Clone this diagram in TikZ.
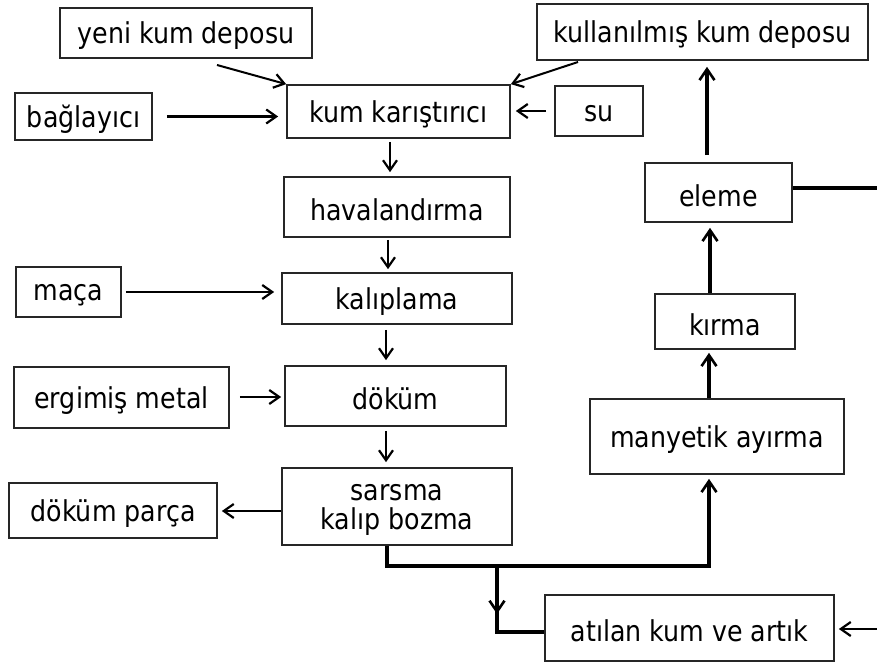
\documentclass[tikz,border=0pt]{standalone}
\usepackage{fontspec}
\setmainfont{DejaVu Sans}
\usepackage{graphicx}
\usetikzlibrary{arrows.meta,calc}
\newcommand\T[1]{\raisebox{-3pt}[\height][\depth]{\scalebox{1.1}[1.25]{#1}}}
\begin{document}
\begin{tikzpicture}[x=1pt,y=-1pt,
  box/.style={draw=black!85,line width=1.7pt,inner sep=0pt,font=\fontsize{23}{30}\selectfont,text=black,align=center},
  arr/.style={line width=2.6pt,-{Straight Barb[length=10pt,width=14pt,line width=2.2pt]}},
  flow/.style={line width=3.2pt},
  flowarr/.style={line width=3.2pt,-{Straight Barb[length=11pt,width=15pt,line width=2.6pt]}}]
\useasboundingbox (0,0) rectangle (877,663);
% nodes
\node[box,minimum width=252,minimum height=50] (yeni) at (186,33) {\T{yeni kum deposu}};
\node[box,minimum width=331,minimum height=56] (kull) at (702.5,32) {\T{kullanılmış kum deposu}};
\node[box,minimum width=137,minimum height=47] (bag) at (83.5,116.5) {\T{bağlayıcı}};
\node[box,minimum width=223,minimum height=53] (kar) at (398.5,111.5) {\T{kum karıştırıcı}};
\node[box,minimum width=88,minimum height=50] (su) at (599,111) {\T{su}};
\node[box,minimum width=226,minimum height=60] (hav) at (397,207) {\T{havalandırma}};
\node[box,minimum width=230,minimum height=51] (kal) at (397,298.5) {\T{kalıplama}};
\node[box,minimum width=105,minimum height=50] (maca) at (68.5,292) {\T{maça}};
\node[box,minimum width=215,minimum height=61] (erg) at (121.5,397.5) {\T{ergimiş metal}};
\node[box,minimum width=221,minimum height=60] (dok) at (395.5,396) {\T{döküm}};
\node[box,minimum width=230,minimum height=77] (sar) at (397,506.5) {\T{sarsma}\\[-1pt]\T{kalıp bozma}};
\node[box,minimum width=208,minimum height=55] (parca) at (113,510.5) {\T{döküm parça}};
\node[box,minimum width=147,minimum height=59] (ele) at (718.5,192.5) {\T{eleme}};
\node[box,minimum width=140,minimum height=55] (kir) at (725,321.5) {\T{kırma}};
\node[box,minimum width=254,minimum height=75] (man) at (717,436.5) {\T{manyetik ayırma}};
\node[box,minimum width=289,minimum height=66] (ati) at (689.5,628) {\T{atılan kum ve artık}};
% helper coordinates
\coordinate (c1) at (387,566);
\coordinate (c2) at (709,566);
\coordinate (c3) at (497,566);
\coordinate (c4) at (497,632);
\coordinate (c5) at (497,614);
\coordinate (eR) at (877,188);
\coordinate (aR) at (877,629);
% connectors
\draw[arr,line width=2pt] (217,65) -- (kar.north west);
\draw[arr,line width=2pt] (578,62) -- (kar.north east);
\draw[arr,shorten <=14pt,shorten >=8pt] (bag.east) -- (kar.west |- bag.east);
\draw[arr,shorten <=8pt,shorten >=5pt] (su.west) -- (kar.east |- su.west);
\draw[arr,shorten <=3pt,shorten >=4pt] (kar.south -| 390,0) -- (hav.north -| 390,0);
\draw[arr,shorten <=2pt,shorten >=3pt] (hav.south -| 388,0) -- (kal.north -| 388,0);
\draw[arr,shorten <=4pt,shorten >=7pt] (maca.east |- 0,292) -- (kal.west |- 0,292);
\draw[arr,shorten <=5pt,shorten >=5pt] (kal.south -| 386,0) -- (dok.north -| 386,0);
\draw[arr,shorten <=10pt,shorten >=3pt] (erg.east |- 0,397) -- (dok.west |- 0,397);
\draw[arr,shorten <=4pt,shorten >=5pt] (dok.south -| 386,0) -- (sar.north -| 386,0);
\draw[arr,shorten >=4pt] (sar.west |- 0,511) -- (parca.east |- 0,511);
\draw[flowarr,shorten >=4pt] (sar.south -| c1) -- (c1) -- (c2) -- (man.south -| c2);
\draw[flow] (c3) -- (c4) -- (ati.west |- c4);
\draw[flowarr] (c3) -- (c5);
\draw[flowarr,shorten >=3pt] (man.north -| 709,0) -- (kir.south -| 709,0);
\draw[flowarr,shorten >=5pt] (kir.north -| 710,0) -- (ele.south -| 710,0);
\draw[flowarr,shorten <=7pt,shorten >=6pt] (ele.north -| 707,0) -- (kull.south -| 707,0);
\draw[flow] (ele.east |- eR) -- (eR);
\draw[arr,shorten >=4pt] (aR) -- (ati.east |- aR);
\end{tikzpicture}
\end{document}
